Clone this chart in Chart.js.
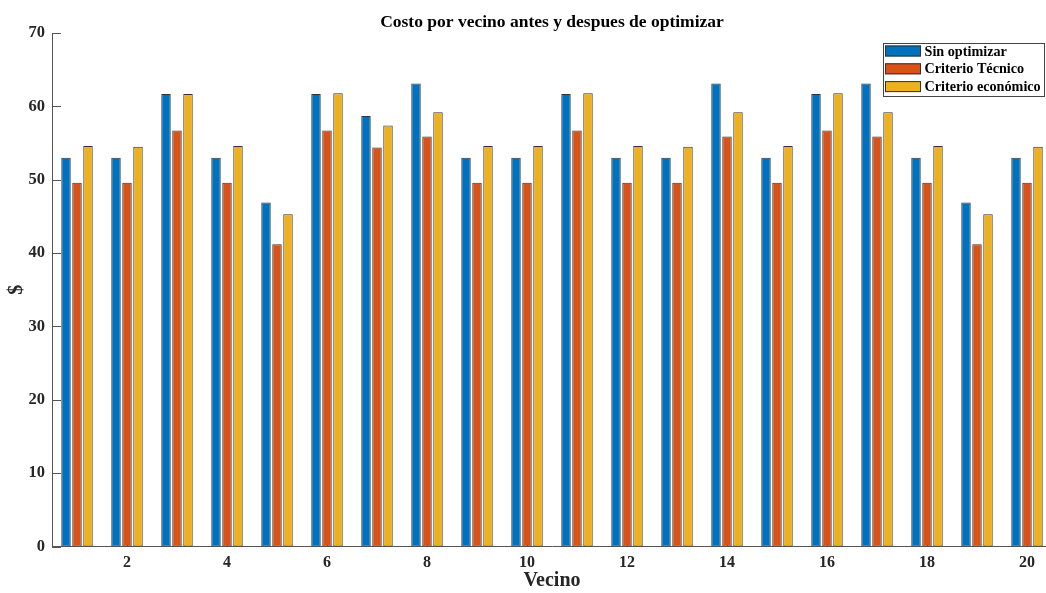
<!DOCTYPE html>
<html>
<head>
    <title>Costo por vecino</title>
    <script src="https://cdn.jsdelivr.net/npm/chart.js"></script>
    <style>
        html, body { margin: 0; padding: 0; overflow: hidden; background: #fff; }
    </style>
</head>
<body>
    <canvas id="costChart" width="1052" height="593"></canvas>

    <script>
        const vecinos = [1, 2, 3, 4, 5, 6, 7, 8, 9, 10, 11, 12, 13, 14, 15, 16, 17, 18, 19, 20];
        const sinOptimizar = [53.0, 53.0, 61.7, 53.0, 46.9, 61.7, 58.7, 63.1, 53.0, 53.0, 61.7, 53.0, 53.0, 63.1, 53.0, 61.7, 63.1, 53.0, 46.9, 53.0];
        const criterioTecnico = [49.6, 49.6, 56.7, 49.6, 41.2, 56.7, 54.4, 55.9, 49.6, 49.6, 56.7, 49.6, 49.6, 55.9, 49.6, 56.7, 55.9, 49.6, 41.2, 49.6];
        const criterioEconomico = [54.6, 54.5, 61.7, 54.6, 45.3, 61.8, 57.4, 59.2, 54.6, 54.6, 61.8, 54.6, 54.5, 59.2, 54.6, 61.8, 59.2, 54.6, 45.3, 54.5];
        const seriesNames = ['Sin optimizar', 'Criterio Técnico', 'Criterio económico'];
        const yTicks = [0, 10, 20, 30, 40, 50, 60, 70];

        const FONT = '"Liberation Serif", "Times New Roman", serif';
        const AXIS_COLOR = '#555555';
        const TEXT_COLOR = '#262626';

        // MATLAB style inward tick marks, drawn behind the bars
        const innerTicks = {
            id: 'innerTicks',
            beforeDatasetsDraw(chart) {
                const ctx = chart.ctx;
                const area = chart.chartArea;
                const x = chart.scales.x, y = chart.scales.y;
                ctx.save();
                ctx.strokeStyle = AXIS_COLOR;
                ctx.lineWidth = 1;
                ctx.beginPath();
                yTicks.forEach(v => {
                    const py = Math.round(y.getPixelForValue(v)) + 0.5;
                    ctx.moveTo(area.left, py);
                    ctx.lineTo(area.left + 9, py);
                });
                vecinos.forEach((v, i) => {
                    if (v % 2 !== 0) return;
                    const px = Math.round(x.getPixelForValue(i)) + 0.5;
                    ctx.moveTo(px, area.bottom);
                    ctx.lineTo(px, area.bottom - 9);
                });
                ctx.stroke();
                ctx.restore();
            }
        };

        // boxed legend in the top right corner of the axes
        const boxLegend = {
            id: 'boxLegend',
            afterDraw(chart) {
                const ctx = chart.ctx;
                const area = chart.chartArea;
                const sets = chart.data.datasets;
                const w = 161, h = 53, rowH = 17.8;
                const left = area.right - 8 - w;
                const top = area.top + 10;
                ctx.save();
                ctx.fillStyle = '#fff';
                ctx.fillRect(left, top, w, h);
                ctx.strokeStyle = '#444';
                ctx.lineWidth = 1;
                ctx.strokeRect(left + 0.5, top + 0.5, w, h);
                ctx.font = 'bold 14.2px ' + FONT;
                ctx.textBaseline = 'middle';
                ctx.textAlign = 'left';
                sets.forEach((ds, i) => {
                    const cy = top + 8 + i * rowH;
                    ctx.fillStyle = ds.backgroundColor;
                    ctx.fillRect(left + 2, cy - 5.5, 36, 11);
                    ctx.strokeStyle = '#333';
                    ctx.strokeRect(left + 2.5, cy - 5, 35, 10);
                    ctx.fillStyle = '#000';
                    ctx.fillText(ds.label, left + 41.5, cy + 1);
                });
                ctx.restore();
            }
        };

        function createChart() {
            const ctx = document.getElementById('costChart').getContext('2d');
            const colors = ['#0072BD', '#D95319', '#EDB120'];
            const values = [sinOptimizar, criterioTecnico, criterioEconomico];

            new Chart(ctx, {
                type: 'bar',
                data: {
                    labels: vecinos,
                    datasets: seriesNames.map((name, i) => ({
                        label: name,
                        data: values[i],
                        backgroundColor: colors[i],
                        borderColor: '#333333',
                        borderWidth: 1,
                        borderSkipped: false,
                        categoryPercentage: 0.66,
                        barPercentage: 0.86
                    }))
                },
                options: {
                    responsive: false,
                    animation: false,
                    layout: { padding: 0 },
                    plugins: {
                        legend: { display: false },
                        tooltip: { enabled: false },
                        title: {
                            display: true,
                            text: 'Costo por vecino antes y despues de optimizar',
                            fullSize: false,
                            color: '#000',
                            font: { family: FONT, size: 17.5, weight: 'bold' },
                            padding: { top: 12, bottom: 0 }
                        }
                    },
                    scales: {
                        x: {
                            offset: true,
                            grid: { display: false, drawTicks: false },
                            border: { display: true, color: AXIS_COLOR, width: 1 },
                            ticks: {
                                autoSkip: false,
                                maxRotation: 0,
                                padding: 6.6,
                                color: TEXT_COLOR,
                                font: { family: FONT, size: 16, weight: 'bold' },
                                callback: (val, i) => (vecinos[i] % 2 === 0 ? String(vecinos[i]) : '')
                            },
                            title: {
                                display: true,
                                text: 'Vecino',
                                color: TEXT_COLOR,
                                font: { family: FONT, size: 20, weight: 'bold' },
                                padding: { top: 0, bottom: 0 }
                            },
                            afterFit: scale => { scale.height = 46.5; }
                        },
                        y: {
                            min: 0,
                            max: 70,
                            grid: { display: false, drawTicks: false },
                            border: { display: true, color: AXIS_COLOR, width: 1 },
                            ticks: {
                                stepSize: 10,
                                padding: 7,
                                color: TEXT_COLOR,
                                font: { family: FONT, size: 16.5, weight: 'bold' }
                            },
                            title: {
                                display: true,
                                text: '$',
                                color: TEXT_COLOR,
                                font: { family: FONT, size: 20, weight: 'bold' },
                                padding: { top: 5, bottom: 0 }
                            },
                            afterFit: scale => { scale.width = 52; }
                        }
                    }
                },
                plugins: [innerTicks, boxLegend]
            });
        }

        window.onload = createChart;
    </script>
</body>
</html>
